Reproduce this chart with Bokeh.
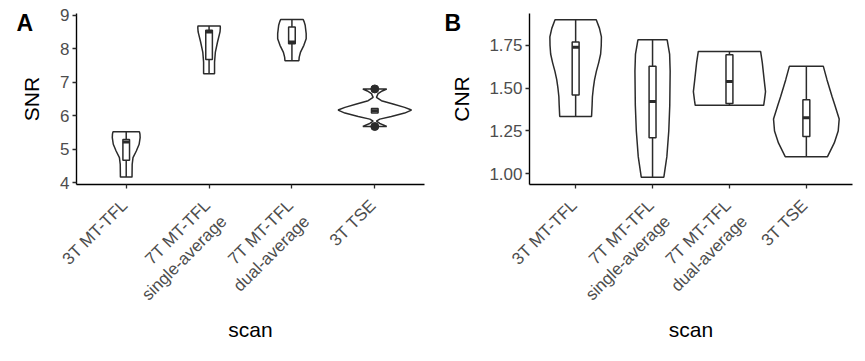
import math
from bokeh.plotting import figure
from bokeh.models import Range1d, FixedTicker, Label, PrintfTickFormatter, LinearAxis
from bokeh.layouts import row
from bokeh.embed import file_html
from bokeh.resources import INLINE

# ---------------- data ----------------
scans = ["3T MT-TFL", "7T MT-TFL\nsingle-average", "7T MT-TFL\ndual-average", "3T TSE"]
scan_pos = [1, 2, 3, 4]

# SNR violin outlines: value levels and half-widths (category units)
snr_v1_y = [4.17, 4.55, 4.75, 4.95, 5.15, 5.35, 5.45, 5.52]
snr_v1_w = [0.07, 0.072, 0.082, 0.122, 0.156, 0.168, 0.166, 0.16]
snr_v2_y = [7.25, 7.6, 7.9, 8.2, 8.5, 8.62, 8.68]
snr_v2_w = [0.066, 0.066, 0.076, 0.102, 0.132, 0.136, 0.134]
snr_v3_y = [7.64, 7.75, 7.9, 8.1, 8.3, 8.45, 8.7, 8.8, 8.87]
snr_v3_w = [0.084, 0.088, 0.104, 0.144, 0.172, 0.172, 0.16, 0.148, 0.136]
snr_v4_y = [5.68, 5.72, 5.77, 5.84, 5.9, 5.98, 6.08, 6.17, 6.25, 6.35, 6.45, 6.55, 6.66, 6.74, 6.8]
snr_v4_w = [0.144, 0.11, 0.06, 0.02, 0.06, 0.2, 0.36, 0.443, 0.36, 0.22, 0.08, 0.02, 0.04, 0.09, 0.144]

snr_q1 = [4.67, 7.68, 8.15, 6.08]
snr_med = [5.22, 8.50, 8.20, 6.15]
snr_q3 = [5.29, 8.55, 8.65, 6.22]
snr_wlo = [4.17, 7.25, 7.64, 6.08]
snr_whi = [5.52, 8.68, 8.87, 6.22]
snr_out_x = [4, 4]
snr_out_y = [5.68, 6.80]

# CNR violin outlines
cnr_v1_y = [1.335, 1.40, 1.45, 1.50, 1.55, 1.60, 1.65, 1.70, 1.75, 1.80, 1.85, 1.90]
cnr_v1_w = [0.207, 0.214, 0.218, 0.23, 0.246, 0.27, 0.30, 0.325, 0.333, 0.335, 0.31, 0.268]
cnr_v2_y = [0.98, 1.10, 1.25, 1.40, 1.60, 1.70, 1.783]
cnr_v2_w = [0.147, 0.186, 0.211, 0.224, 0.229, 0.222, 0.19]
cnr_v3_y = [1.40, 1.43, 1.48, 1.55, 1.65, 1.715]
cnr_v3_w = [0.445, 0.455, 0.469, 0.451, 0.427, 0.405]
cnr_v4_y = [1.10, 1.18, 1.25, 1.32, 1.40, 1.45, 1.55, 1.629]
cnr_v4_w = [0.275, 0.363, 0.414, 0.427, 0.371, 0.335, 0.268, 0.22]

cnr_q1 = [1.46, 1.21, 1.41, 1.218]
cnr_med = [1.74, 1.423, 1.54, 1.327]
cnr_q3 = [1.77, 1.629, 1.696, 1.433]
cnr_wlo = [1.335, 0.98, 1.40, 1.10]
cnr_whi = [1.90, 1.783, 1.715, 1.629]

snr_ticks = [4, 5, 6, 7, 8, 9]
cnr_ticks = [1.0, 1.25, 1.5, 1.75]

# ---------------- style ----------------
FONT = "Liberation Sans"
DARK = "#2b2b2b"
TICK_TXT = "#4D4D4D"
H = 350
TOP = 13
FRAME_H = 171
LW = 1.5


def violin(p, c, ys, ws):
    xs = [c + w for w in ws] + [c - w for w in reversed(ws)]
    yy = list(ys) + list(reversed(ys))
    p.patch(xs, yy, fill_color="white", line_color=DARK, line_width=LW)


def boxes(p, q1, med, q3, wlo, whi, hw):
    p.segment(scan_pos, wlo, scan_pos, whi, line_color=DARK, line_width=LW)
    p.quad(left=[c - hw for c in scan_pos], right=[c + hw for c in scan_pos],
           bottom=q1, top=q3, fill_color="white", line_color=DARK, line_width=LW)
    p.segment([c - hw for c in scan_pos], med, [c + hw for c in scan_pos], med,
              line_color=DARK, line_width=3)


def style_axis(ax):
    ax.axis_line_color = "black"
    ax.axis_line_width = 1.4
    ax.major_tick_line_color = DARK
    ax.major_tick_line_width = 1.3
    ax.major_tick_out = 4
    ax.major_tick_in = 0
    ax.minor_tick_line_color = None
    ax.major_label_text_font = FONT
    ax.major_label_text_font_size = "17px"
    ax.major_label_text_color = TICK_TXT
    ax.axis_label_text_font = FONT
    ax.axis_label_text_font_size = "21px"
    ax.axis_label_text_font_style = "normal"
    ax.axis_label_text_color = "black"


def base(width, ylo, yhi, bl, br, ylabel, ticks, label_shift):
    p = figure(width=width, height=H, x_range=Range1d(0.4, 4.6), y_range=Range1d(ylo, yhi),
               output_backend="svg", toolbar_location=None,
               min_border_left=bl, min_border_right=br, min_border_top=TOP,
               min_border_bottom=H - TOP - FRAME_H)
    p.xgrid.visible = False
    p.ygrid.visible = False
    p.outline_line_color = None
    p.background_fill_color = "white"
    style_axis(p.xaxis[0])
    style_axis(p.yaxis[0])
    # x axis line + tick marks (labels drawn by a second axis below)
    p.xaxis.ticker = FixedTicker(ticks=scan_pos)
    p.xaxis.major_label_overrides = {c: "" for c in scan_pos}
    p.xaxis.major_label_standoff = 0
    # label axis: anchors nudged so the rotated labels end like ggplot's hjust=1
    lab_pos = [c + label_shift for c in scan_pos]
    lab = LinearAxis(ticker=FixedTicker(ticks=lab_pos))
    style_axis(lab)
    lab.axis_line_color = None
    lab.major_tick_line_color = None
    lab.major_tick_out = 0
    lab.major_label_overrides = {c: (s if "\n" in s else s + "\n ")
                                 for c, s in zip(lab_pos, scans)}
    lab.major_label_orientation = math.pi / 4
    lab.major_label_standoff = 22
    lab.axis_label = "scan"
    lab.axis_label_standoff = -4
    p.add_layout(lab, "below")
    p.yaxis.ticker = FixedTicker(ticks=ticks)
    p.yaxis.major_label_standoff = 3
    p.yaxis.axis_label = ylabel
    return p


def panel_tag(p, text, x_off):
    p.add_layout(Label(x=x_off, y=FRAME_H + TOP - 22, x_units="screen", y_units="screen",
                       text=text, text_baseline="alphabetic",
                       text_font=FONT, text_font_style="bold", text_font_size="23px",
                       text_color="black"), "left")


pa = base(430, 3.95, 9.05, 71, 6, "SNR", snr_ticks, 0.08)
pa.yaxis.axis_label_standoff = 14
for c, ys, ws in zip(scan_pos, [snr_v1_y, snr_v2_y, snr_v3_y, snr_v4_y],
                     [snr_v1_w, snr_v2_w, snr_v3_w, snr_v4_w]):
    violin(pa, c, ys, ws)
boxes(pa, snr_q1, snr_med, snr_q3, snr_wlo, snr_whi, 0.04)
pa.scatter(snr_out_x, snr_out_y, size=8, color=DARK)
panel_tag(pa, "A", 16)

pb = base(427, 0.937, 1.937, 98, 5, "CNR", cnr_ticks, 0.088)
pb.yaxis.formatter = PrintfTickFormatter(format="%.2f")
pb.yaxis.axis_label_standoff = 13
for c, ys, ws in zip(scan_pos, [cnr_v1_y, cnr_v2_y, cnr_v3_y, cnr_v4_y],
                     [cnr_v1_w, cnr_v2_w, cnr_v3_w, cnr_v4_w]):
    violin(pb, c, ys, ws)
boxes(pb, cnr_q1, cnr_med, cnr_q3, cnr_wlo, cnr_whi, 0.045)
panel_tag(pb, "B", 14)

layout = row(pa, pb, spacing=0)
open("out.html", "w").write(file_html(layout, INLINE))
